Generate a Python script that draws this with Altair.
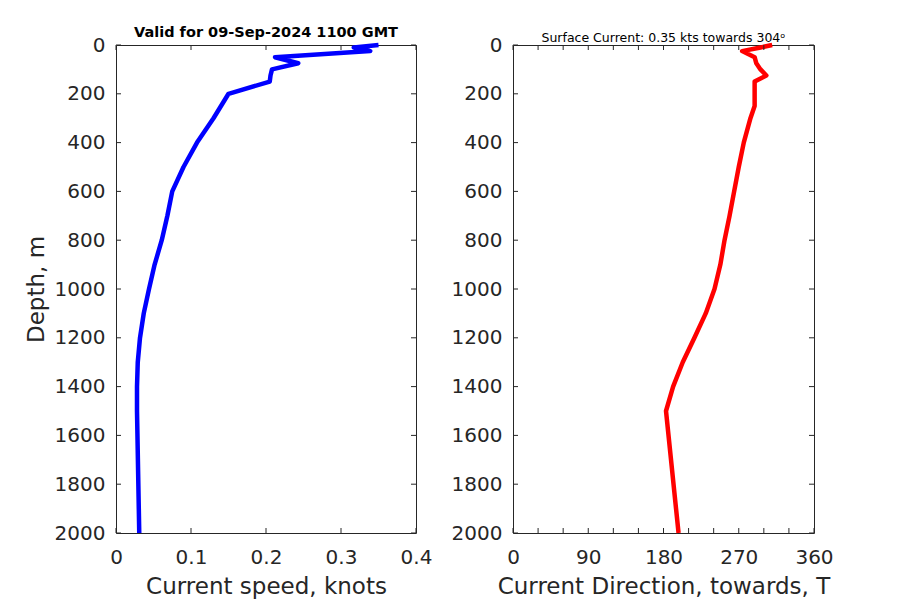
import altair as alt
import pandas as pd

# ---- data ----
depths = [0, 10, 25, 50, 75, 100, 125, 150, 200, 250, 300, 400, 500, 600,
          700, 800, 900, 1000, 1100, 1200, 1300, 1400, 1500, 2000]
speed = [0.35, 0.317, 0.339, 0.212, 0.243, 0.208, 0.206, 0.205, 0.150, 0.140,
         0.130, 0.108, 0.090, 0.075, 0.0685, 0.061, 0.0515, 0.044, 0.037, 0.032,
         0.029, 0.028, 0.028, 0.031]
direction = [310, 296, 274, 289, 291, 296, 303, 289, 289, 289, 284, 276,
             270, 264.5, 259, 253, 248, 241, 230.5, 217, 203, 191.5, 183, 198]

depth_ticks = [0, 200, 400, 600, 800, 1000, 1200, 1400, 1600, 1800, 2000]
speed_ticks = [0, 0.1, 0.2, 0.3, 0.4]
dir_labels = [0, 90, 180, 270, 360]
dir_ticks = [0, 30, 60, 90, 120, 150, 180, 210, 240, 270, 300, 330, 360]

title_left = "Valid for 09-Sep-2024 1100 GMT"
title_right = "Surface Current: 0.35 kts towards 304ᵒ"

FONT = "DejaVu Sans"
AX = "#262626"
H = 488
TL = 5

df_speed = pd.DataFrame({"depth": depths, "speed": speed})
df_dir = pd.DataFrame({"depth": depths, "dir": direction})


def panel(df, field, color, domain, label_vals, tick_vals, xfmt, xtitle, title,
          W, ytitle, tfont, tweight, toffset):
    xscale = alt.Scale(domain=domain, nice=False, zero=False)
    yscale = alt.Scale(domain=[0, 2000], reverse=True, nice=False, zero=False)
    if ytitle:
        yaxis = alt.Axis(values=depth_ticks, format="d", labelPadding=11,
                         titlePadding=6, labelFlush=False, labelOverlap=False,
                         title=ytitle)
    else:
        yaxis = alt.Axis(values=depth_ticks, format="d", labelPadding=11,
                         labelFlush=False, labelOverlap=False, title=None)
    xaxis = alt.Axis(values=label_vals, format=xfmt, title=xtitle,
                     labelPadding=14, titlePadding=8, labelFlush=False,
                     labelOverlap=False)
    xenc = alt.X(f"{field}:Q", scale=xscale, axis=xaxis)
    yenc = alt.Y("depth:Q", scale=yscale, axis=yaxis)
    line = alt.Chart(df).mark_line(
        color=color, strokeWidth=4.5, strokeJoin="round", clip=False
    ).encode(x=xenc, y=yenc, order=alt.Order("depth:Q"))
    xt = pd.DataFrame({field: tick_vals})
    yt = pd.DataFrame({"depth": depth_ticks})
    tb = alt.Chart(xt).mark_rule(color=AX, strokeWidth=1).encode(
        x=xenc, y=alt.value(H), y2=alt.value(H - TL))
    tt = alt.Chart(xt).mark_rule(color=AX, strokeWidth=1).encode(
        x=xenc, y=alt.value(0), y2=alt.value(TL))
    tlft = alt.Chart(yt).mark_rule(color=AX, strokeWidth=1).encode(
        y=yenc, x=alt.value(0), x2=alt.value(TL))
    trgt = alt.Chart(yt).mark_rule(color=AX, strokeWidth=1).encode(
        y=yenc, x=alt.value(W), x2=alt.value(W - TL))
    return alt.layer(line, tb, tt, tlft, trgt).properties(
        width=W, height=H,
        title=alt.Title(title, font=FONT, fontSize=tfont, fontWeight=tweight,
                        color="black", baseline="alphabetic", offset=toffset,
                        frame="group", anchor="middle"),
    )


left = panel(df_speed, "speed", "#0000ff", [0, 0.4], speed_ticks, speed_ticks,
             "~g", "Current speed, knots", title_left, 300, "Depth, m", 14.5,
             "bold", -16)
right = panel(df_dir, "dir", "#ff0000", [0, 360], dir_labels, dir_ticks, "d",
              "Current Direction, towards, T", title_right, 301, None, 12.5,
              "normal", -19)

chart = alt.hconcat(left, right, spacing=97, bounds="flush").properties(
    padding={"left": 16, "top": 16, "right": 5, "bottom": 0}
).configure_axis(
    labelFont=FONT, labelFontSize=20, labelColor=AX,
    titleFont=FONT, titleFontSize=23, titleColor=AX, titleFontWeight="normal",
    grid=False, domain=False, ticks=False, tickSize=0,
).configure_view(stroke=AX, strokeWidth=1)

chart.save("out.html", embed_options={"renderer": "svg", "actions": False})
